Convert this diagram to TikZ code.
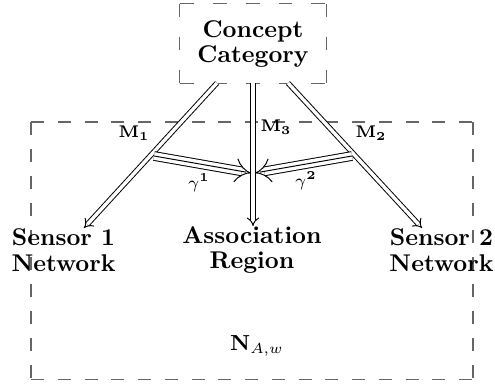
\documentclass[tikz,border=0pt]{standalone}
\usetikzlibrary{arrows.meta}
\begin{document}
\begin{tikzpicture}[x=0.4132pt,y=-0.4132pt,
  dline/.style={draw=black!60,line width=0.75pt},
  lbl/.style={font=\bfseries,align=center,inner sep=0pt},
  marr/.style={double,double distance=1.4pt,line width=0.4pt,-{Implies}},
  garr/.style={double,double distance=3.2pt,line width=0.4pt,-{Implies}},
  small/.style={font=\scriptsize,inner sep=0pt}]
\useasboundingbox (0,0) rectangle (495,385);
\node[minimum width=60.3pt,minimum height=32.6pt,inner sep=0pt] (cc) at (253,43.5) {};
\node[lbl] (cct) at (253,44) {Concept\\[-1.8pt]Category};
\node[minimum width=182.3pt,minimum height=105.9pt,inner sep=0pt] (reg) at (252.3,250.8) {};
\draw[dline,dash pattern=on 5.78pt off 7.85pt] (cc.north west) -- (cc.north east);
\draw[dline,dash pattern=on 5.78pt off 7.85pt] (cc.south west) -- (cc.south east);
\draw[dline,dash pattern=on 5.37pt off 8.26pt] (cc.north west) -- (cc.south west);
\draw[dline,dash pattern=on 5.37pt off 8.26pt] (cc.north east) -- (cc.south east);
\draw[dline,dash pattern=on 5.37pt off 5.68pt] (reg.north west) -- (reg.north east);
\draw[dline,dash pattern=on 5.37pt off 5.68pt] (reg.south west) -- (reg.south east);
\draw[dline,dash pattern=on 5.37pt off 5.78pt] (reg.north west) -- (reg.south west);
\draw[dline,dash pattern=on 5.37pt off 5.78pt] (reg.north east) -- (reg.south east);
\node[lbl] (s1) at (63.5,250) {Sensor 1\\[-1.5pt]Network};
\node[lbl] (ar) at (252,250) {Association\\[-1.5pt]Region};
\node[lbl] (s2) at (441.5,250) {Sensor 2\\[-1.5pt]Network};
\node[inner sep=0pt,font=\small] (n) at (257,346) {$\mathbf{N}_{A,w}$};
\coordinate (m1s) at (217,83);
\coordinate (m1e) at (84,228);
\coordinate (m3s) at (253,83);
\coordinate (m3e) at (253,226);
\coordinate (m2s) at (288,83);
\coordinate (m2e) at (422,228);
\coordinate (g1s) at (154,156);
\coordinate (g1e) at (251,173);
\coordinate (g2s) at (352,156);
\coordinate (g2e) at (255,173);
\draw[marr] (m1s) -- (m1e);
\draw[marr] (m3s) -- (m3e);
\draw[marr] (m2s) -- (m2e);
\draw[garr] (g1s) -- (g1e);
\draw[line width=0.4pt,shorten >=2pt] (g1s) -- (g1e);
\draw[garr] (g2s) -- (g2e);
\draw[line width=0.4pt,shorten >=2pt] (g2s) -- (g2e);
\node[small] (l1) at (134,133) {$\mathbf{M}_{\mathbf{1}}$};
\node[small] (l3) at (276,127) {$\mathbf{M}_{\mathbf{3}}$};
\node[small] (l2) at (371,133) {$\mathbf{M}_{\mathbf{2}}$};
\node[small] (q1) at (199,183) {$\gamma^{\mathbf{1}}$};
\node[small] (q2) at (306,181) {$\gamma^{\mathbf{2}}$};
\end{tikzpicture}
\end{document}
